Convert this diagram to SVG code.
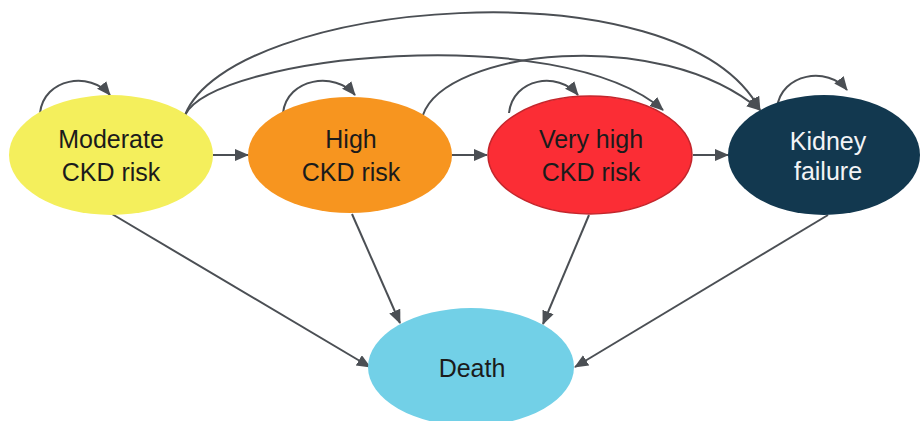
<svg xmlns="http://www.w3.org/2000/svg" width="920" height="421" viewBox="0 0 920 421">
  <style>
    .lbl { font-family: "Liberation Sans", Arial, sans-serif; font-size: 25px; text-anchor: middle; fill: #1b1b1b; }
    .light { fill: #f2f4f6; }
    .edge { fill: none; stroke: #4b4f54; stroke-width: 2; marker-end: url(#arr); }
  </style>
  <defs>
    <marker id="arr" markerUnits="userSpaceOnUse" markerWidth="16" markerHeight="13" refX="13" refY="6" orient="auto">
      <path d="M0,0 L14,6 L0,12 Z" fill="#4b4f54"/>
    </marker>
  </defs>
  <rect width="920" height="421" fill="#ffffff"/>

  <g id="connectors">
    <!-- self loops -->
    <path class="edge" d="M40,113 C44,78 90,71 110,95"/>
    <path class="edge" d="M283,113 C287,78 335,71 355,95"/>
    <path class="edge" d="M509,113 C513,78 558,71 578,95"/>
    <path class="edge" d="M777,108 C781,73 828,66 847,90"/>
    <!-- straight forward -->
    <path class="edge" d="M213,155 L248,155"/>
    <path class="edge" d="M452,155 L487,155"/>
    <path class="edge" d="M693,155 L728,155"/>
    <!-- long arcs -->
    <path class="edge" d="M185,115 C230,0 680,-40 760,110"/>
    <path class="edge" d="M185,115 C215,55 560,20 663,110"/>
    <path class="edge" d="M423,115 C445,50 660,25 760,110"/>
    <!-- to death -->
    <path class="edge" d="M112,214 L370,367"/>
    <path class="edge" d="M352,214 L400,323"/>
    <path class="edge" d="M589,215 L543,324"/>
    <path class="edge" d="M828,215 L575,367"/>
  </g>

  <g id="moderate">
    <ellipse cx="111" cy="155" rx="102" ry="60" fill="#f4ef5c"/>
    <text class="lbl" x="111" y="148">Moderate</text>
    <text class="lbl" x="111" y="181">CKD risk</text>
  </g>
  <g id="high">
    <ellipse cx="350" cy="155" rx="102" ry="58" fill="#f7951f"/>
    <text class="lbl" x="351" y="148">High</text>
    <text class="lbl" x="351" y="181">CKD risk</text>
  </g>
  <g id="veryhigh">
    <ellipse cx="590" cy="155" rx="102" ry="59" fill="#fb2d35" stroke="#c4262c" stroke-width="1.5"/>
    <text class="lbl" x="591" y="148">Very high</text>
    <text class="lbl" x="591" y="181">CKD risk</text>
  </g>
  <g id="kidney">
    <ellipse cx="824" cy="155" rx="96" ry="60" fill="#12384f"/>
    <text class="lbl light" x="828" y="150">Kidney</text>
    <text class="lbl light" x="828" y="180">failure</text>
  </g>
  <g id="death">
    <ellipse cx="471" cy="367" rx="103" ry="59" fill="#72d0e7"/>
    <text class="lbl" x="472" y="377">Death</text>
  </g>
</svg>
